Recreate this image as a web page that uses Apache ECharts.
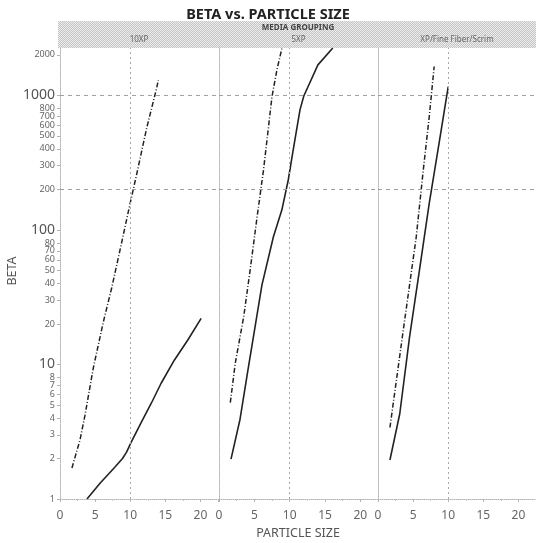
<!DOCTYPE html>
<html>
<head>
<meta charset="utf-8">
<style>
  html, body { margin: 0; padding: 0; background: #fff; }
  #chart { width: 536px; height: 543px; }
</style>
<script src="https://cdn.jsdelivr.net/npm/echarts@6/dist/echarts.min.js"></script>
</head>
<body>
<div id="chart"></div>
<script>
// Panel (media grouping) names
const panels = ['10XP', '5XP', 'XP/Fine Fiber/Scrim'];

// Particle size ticks and beta tick labels
const xTicks = [0, 5, 10, 15, 20];
const betaTicks = [1, 2, 3, 4, 5, 6, 7, 8, 10, 20, 30, 40, 50, 60, 70, 80, 100,
  200, 300, 400, 500, 600, 700, 800, 1000, 2000];
const betaMajor = [10, 100, 1000];

// Reference lines
const refBeta = [200, 1000];
const refSize = 10;

// 10XP
const size10xpA = [1.7, 2.85, 3.56, 4.74, 6.17, 7.36, 8.55, 9.97, 10.93, 12.35, 13.77, 14.0];
const beta10xpA = [1.7, 2.75, 4.2, 9.4, 20.7, 37, 71, 156, 261, 573, 1137, 1300];
const size10xpB = [3.84, 5.7, 7.8, 8.9, 9.5, 10.07, 11.5, 13.0, 14.4, 16.3, 18.2, 20.1];
const beta10xpB = [1.0, 1.31, 1.72, 2.0, 2.24, 2.6, 3.65, 5.15, 7.25, 10.8, 15.2, 22];

// 5XP
const size5xpA = [1.6, 2.3, 3.5, 4.4, 5.4, 6.3, 7.5, 8.2, 8.9];
const beta5xpA = [5.2, 10.2, 22.7, 50, 126, 279, 980, 1550, 2240];
const size5xpB = [1.7, 2.97, 4.1, 6.08, 7.7, 8.9, 9.8, 10.5, 11.46, 12.0, 14.0, 16.1];
const beta5xpB = [1.98, 3.9, 9.1, 39, 89, 141, 235, 393, 780, 990, 1686, 2250];

// XP/Fine Fiber/Scrim
const sizeXpA = [1.7, 3.6, 5.45, 6.4, 7.3, 8.0];
const betaXpA = [3.4, 18, 89, 264, 696, 1640];
const sizeXpB = [1.7, 3.1, 4.5, 5.9, 7.3, 8.7, 10.0];
const betaXpB = [1.95, 4.3, 16.1, 50, 158, 441, 1160];

const lineSets = [
  [[size10xpA, beta10xpA], [size10xpB, beta10xpB]],
  [[size5xpA, beta5xpA], [size5xpB, beta5xpB]],
  [[sizeXpA, betaXpA], [sizeXpB, betaXpB]]
];

const zip = (xs, ys) => xs.map((x, i) => [x, ys[i]]);

const FONT = '"Noto Sans", "Open Sans", sans-serif';
const gridLeft = [60, 219, 378];
const gridWidth = [158, 159, 158];
const X_MAX = 22.5;
const Y_MAX = 2250;
const AXIS_GREY = '#b4b4b4';

// Fine checkered fill for the header band
function makePattern() {
  const c = document.createElement('canvas');
  c.width = 2; c.height = 2;
  const g = c.getContext('2d');
  g.fillStyle = '#ededed'; g.fillRect(0, 0, 2, 2);
  g.fillStyle = '#c4c4c4'; g.fillRect(0, 0, 1, 1); g.fillRect(1, 1, 1, 1);
  return c;
}

const grids = [], xAxes = [], yAxes = [], series = [];
panels.forEach((name, i) => {
  grids.push({ left: gridLeft[i], width: gridWidth[i], top: 48, bottom: 44 });
  xAxes.push({
    type: 'value', gridIndex: i, min: 0, max: X_MAX, interval: 5,
    axisLine: { show: true, lineStyle: { color: AXIS_GREY, type: 'dotted', width: 1 } },
    axisTick: { show: true, length: 3, lineStyle: { color: AXIS_GREY } },
    minorTick: { show: true, splitNumber: 2, length: 2, lineStyle: { color: '#c4c4c4' } },
    splitLine: { show: false },
    axisLabel: {
      color: '#666', fontSize: 12, fontFamily: FONT, margin: 11,
      showMaxLabel: false,
      formatter: v => (xTicks.indexOf(v) >= 0 ? String(v) : '')
    }
  });
  yAxes.push({
    type: 'log', gridIndex: i, min: 1, max: Y_MAX, logBase: 10,
    axisLine: { show: true, lineStyle: { color: AXIS_GREY, type: 'dotted', width: 1 } },
    axisTick: { show: i === 0, length: 3, customValues: betaTicks, lineStyle: { color: AXIS_GREY } },
    splitLine: { show: false },
    axisLabel: {
      show: i === 0,
      customValues: betaTicks,
      margin: 5,
      fontFamily: FONT,
      formatter: v => betaMajor.indexOf(Math.round(v)) >= 0 ? '{big|' + Math.round(v) + '}' : '{small|' + Math.round(v) + '}',
      rich: {
        big: { fontSize: 14, color: '#555', fontFamily: FONT },
        small: { fontSize: 9, color: '#666', fontFamily: FONT, lineHeight: 9 }
      }
    }
  });
  const [dashSet, solidSet] = lineSets[i];
  series.push({
    type: 'line', xAxisIndex: i, yAxisIndex: i, name: name,
    data: zip(dashSet[0], dashSet[1]),
    showSymbol: false, symbol: 'none', silent: true,
    lineStyle: { color: '#222', width: 1.5, type: [5, 2, 1, 2] },
    markLine: {
      silent: true, symbol: 'none', label: { show: false },
      data: [
        ...refBeta.map(b => ({ yAxis: b, lineStyle: { color: '#a0a0a0', type: [4, 4], width: 1 } })),
        { xAxis: refSize, lineStyle: { color: '#a8a8a8', type: [2, 3], width: 1 } }
      ]
    }
  });
  series.push({
    type: 'line', xAxisIndex: i, yAxisIndex: i, name: name,
    data: zip(solidSet[0], solidSet[1]),
    showSymbol: false, symbol: 'none', silent: true,
    lineStyle: { color: '#222', width: 1.6, type: 'solid' }
  });
});

const chart = echarts.init(document.getElementById('chart'), null, { renderer: 'canvas' });
const pattern = makePattern();

const graphics = [
  {
    type: 'rect', left: 58, top: 21, z: 0,
    shape: { width: 478, height: 27 },
    style: { fill: { image: pattern, repeat: 'repeat' } }
  },
  {
    type: 'text', x: 298, y: 28, z: 5,
    style: { text: 'MEDIA GROUPING', fill: '#444', font: 'bold 8px ' + FONT, textAlign: 'center', textVerticalAlign: 'middle' }
  },
  ...panels.map((p, i) => ({
    type: 'text', x: gridLeft[i] + gridWidth[i] / 2, y: 40, z: 5,
    style: { text: p, fill: '#666', font: '8px ' + FONT, textAlign: 'center', textVerticalAlign: 'middle' }
  }))
];

chart.setOption({
  animation: false,
  backgroundColor: '#fff',
  title: {
    text: 'BETA vs. PARTICLE SIZE', left: 263, top: 2, textAlign: 'center',
    textStyle: { fontSize: 14.5, fontWeight: 'bold', color: '#222', fontFamily: FONT }
  },
  graphic: graphics.concat([
    {
      type: 'text', x: 298, y: 533, z: 5,
      style: { text: 'PARTICLE SIZE', fill: '#555', font: '12.5px ' + FONT, textAlign: 'center', textVerticalAlign: 'middle' }
    },
    {
      type: 'text', x: 12, y: 271, rotation: Math.PI / 2, z: 5,
      style: { text: 'BETA', fill: '#555', font: '12.5px ' + FONT, textAlign: 'center', textVerticalAlign: 'middle' }
    }
  ]),
  grid: grids,
  xAxis: xAxes,
  yAxis: yAxes,
  series: series
});
</script>
</body>
</html>
